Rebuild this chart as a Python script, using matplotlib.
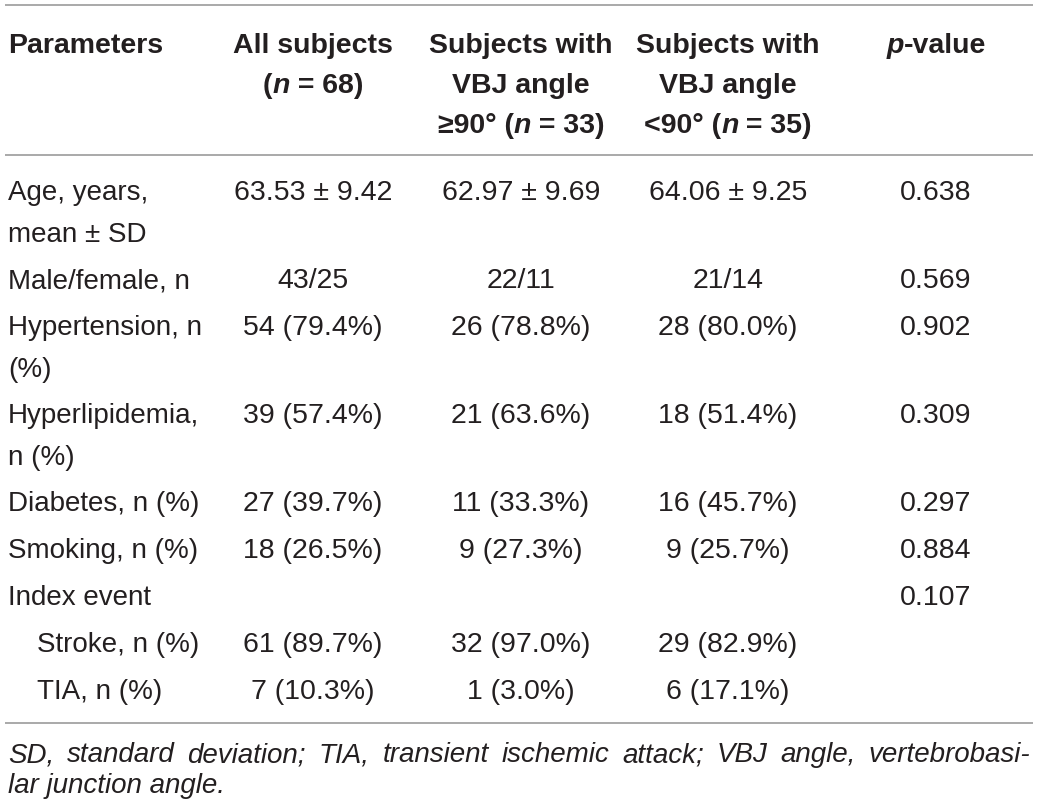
import matplotlib
matplotlib.use("Agg")
import matplotlib.pyplot as plt

plt.rcParams['font.family'] = ['Liberation Sans', 'DejaVu Sans']

# table content
header_cols = [
    [[("Parameters", "normal")]],
    [[("All subjects", "normal")],
     [("(", "normal"), ("n", "italic"), (" = 68)", "normal")]],
    [[("Subjects with", "normal")],
     [("VBJ angle", "normal")],
     [("\u226590\u00b0 (", "normal"), ("n", "italic"), (" = 33)", "normal")]],
    [[("Subjects with", "normal")],
     [("VBJ angle", "normal")],
     [("<90\u00b0 (", "normal"), ("n", "italic"), (" = 35)", "normal")]],
    [[("p", "italic"), ("-value", "normal")]],
]

labels = ["Age, years,\nmean \u00b1 SD", "Male/female, n", "Hypertension, n\n(%)",
          "Hyperlipidemia,\nn (%)", "Diabetes, n (%)", "Smoking, n (%)",
          "Index event", "Stroke, n (%)", "TIA, n (%)"]
indented = [False, False, False, False, False, False, False, True, True]
all_subjects = ["63.53 \u00b1 9.42", "43/25", "54 (79.4%)", "39 (57.4%)", "27 (39.7%)",
                "18 (26.5%)", "", "61 (89.7%)", "7 (10.3%)"]
vbj_ge90 = ["62.97 \u00b1 9.69", "22/11", "26 (78.8%)", "21 (63.6%)", "11 (33.3%)",
            "9 (27.3%)", "", "32 (97.0%)", "1 (3.0%)"]
vbj_lt90 = ["64.06 \u00b1 9.25", "21/14", "28 (80.0%)", "18 (51.4%)", "16 (45.7%)",
            "9 (25.7%)", "", "29 (82.9%)", "6 (17.1%)"]
p_values = ["0.638", "0.569", "0.902", "0.309", "0.297", "0.884", "0.107", "", ""]

footnote = ("SD, standard deviation; TIA, transient ischemic attack; VBJ angle, vertebrobasi-",
            "lar junction angle.")

TXT = "#231f20"
RULE = "#a3a3a3"
col_x = [8, 313, 521, 728, 936]

fig = plt.figure(figsize=(10.4, 8.1), dpi=100)
ax = fig.add_axes([0, 0, 1, 1])
ax.set_xlim(0, 1040)
ax.set_ylim(810, 0)
ax.axis("off")
renderer = fig.canvas.get_renderer()


def width_of(t):
    return t.get_window_extent(renderer=renderer).width


def draw_runs(x, y, runs, ha, size, weight):
    """Draw a line made of pieces with different styles, centred or left aligned."""
    pieces = [ax.text(0, y, s, fontsize=size, fontweight=weight, fontstyle=st,
                      color=TXT, va="baseline", ha="left") for s, st in runs]
    widths = [width_of(p) for p in pieces]
    x0 = x - sum(widths) / 2 if ha == "center" else x
    for p, w in zip(pieces, widths):
        p.set_x(x0)
        x0 += w


def justify(y, line, x0, x1, size):
    words = line.split(" ")
    pieces = [ax.text(0, y, w, fontsize=size, fontstyle="italic", color=TXT,
                      va="baseline", ha="left") for w in words]
    widths = [width_of(p) for p in pieces]
    gap = (x1 - x0 - sum(widths)) / (len(words) - 1)
    x = x0
    for p, w in zip(pieces, widths):
        p.set_x(x)
        x += w + gap


# rules
for yy in (5, 155, 723):
    ax.plot([5, 1033], [yy, yy], color=RULE, lw=1.3, solid_capstyle="butt")

# header
for ci, lines in enumerate(header_cols):
    for li, runs in enumerate(lines):
        draw_runs(col_x[ci], 53 + 40 * li, runs, "left" if ci == 0 else "center", 20.5, "bold")

# body
y = 200
for i, lab in enumerate(labels):
    parts = lab.split("\n")
    for li, part in enumerate(parts):
        ax.text(col_x[0] + (29 if indented[i] else 0), y + 42 * li, part, fontsize=20,
                color=TXT, va="baseline", ha="left")
    for ci, col in enumerate([all_subjects, vbj_ge90, vbj_lt90, p_values]):
        ax.text(col_x[ci + 1], y, col[i], fontsize=20.5, color=TXT, va="baseline", ha="center")
    y += 47 + 41 * (len(parts) - 1)

# footnote
justify(762, footnote[0], 8, 1030, 20)
ax.text(8, 793, footnote[1], fontsize=20, fontstyle="italic", color=TXT, va="baseline", ha="left")

fig.savefig("out.png", dpi=100)
